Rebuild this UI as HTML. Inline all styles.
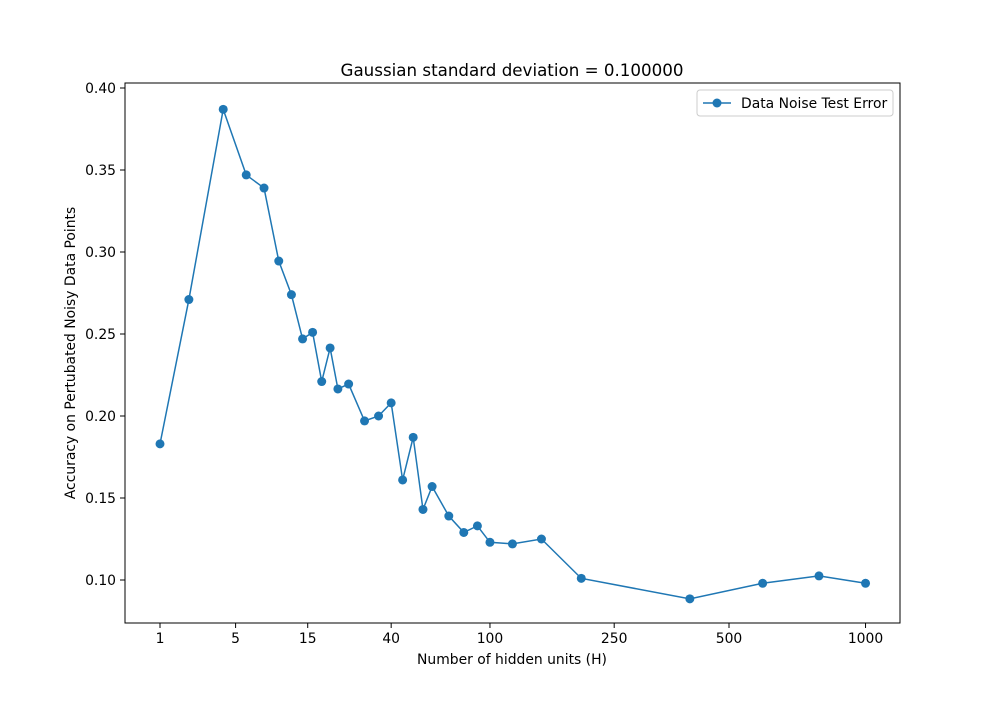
<!DOCTYPE html>
<html><head><meta charset="utf-8"><style>
body{margin:0;background:#fff;}
svg text{font-family:"DejaVu Sans","Liberation Sans",sans-serif;fill:#000;}
</style></head><body>
<svg id="chart" width="1000" height="700" viewBox="0 0 1000 700" xmlns="http://www.w3.org/2000/svg">
<rect width="1000" height="700" fill="#fff"/>
<text x="512" y="76" font-size="16.7" text-anchor="middle">Gaussian standard deviation = 0.100000</text>
<rect x="125" y="83" width="775" height="540" fill="none" stroke="#000" stroke-width="1"/>
<g id="xticks"></g>
<g id="yticks"></g>
<text x="512" y="664" font-size="13.9" text-anchor="middle">Number of hidden units (H)</text>
<text transform="translate(75,353) rotate(-90)" font-size="13.9" text-anchor="middle">Accuracy on Pertubated Noisy Data Points</text>
<g id="series"></g>
<g>
<rect x="697" y="90" width="196" height="26" rx="3" fill="#fff" stroke="#ccc"/>
<line x1="703" y1="103" x2="731" y2="103" stroke="#1f77b4" stroke-width="1.5"/>
<circle cx="717" cy="103" r="4.5" fill="#1f77b4"/>
<text x="741" y="108" font-size="13.9">Data Noise Test Error</text>
</g>
</svg>
<script>
const hiddenUnits=[1,2,4,6,8,10,12,14,16,18,20,22,25,30,35,40,45,50,55,60,70,80,90,100,120,150,200,400,600,800,1000];
const errorValues=[0.183,0.271,0.387,0.347,0.339,0.2945,0.274,0.247,0.251,0.221,0.2415,0.2165,0.2195,0.197,0.200,0.208,0.161,0.187,0.143,0.157,0.139,0.129,0.133,0.123,0.122,0.125,0.101,0.0885,0.098,0.1025,0.098];
const xTickValues=[1,5,15,40,100,250,500,1000];
const yTickValues=[0.10,0.15,0.20,0.25,0.30,0.35,0.40];
const NS="http://www.w3.org/2000/svg";
function xScale(h){return 160+152.6*(Math.pow(h,0.25)-1);}
function yScale(v){return 580-(v-0.10)*1640;}
function mk(tag,attrs,parent){const e=document.createElementNS(NS,tag);for(const k in attrs)e.setAttribute(k,attrs[k]);parent.appendChild(e);return e;}
const xg=document.getElementById('xticks');
xTickValues.forEach(t=>{const x=xScale(t);
 const l=mk('line',{x1:x,x2:x,y1:623,y2:628,stroke:'#000'},xg);
 
 
 const tx=mk('text',{x:x,y:643,'font-size':13.9,'text-anchor':'middle'},xg);tx.textContent=String(t);
 
 
});
const yg=document.getElementById('yticks');
yTickValues.forEach(t=>{const y=yScale(t);
 const l=mk('line',{x1:120,x2:125,y1:y,y2:y,stroke:'#000'},yg);
 
 
 const tx=mk('text',{x:116,y:y+5,'font-size':13.9,'text-anchor':'end'},yg);tx.textContent=t.toFixed(2);
 
 
});
const sg=document.getElementById('series');
const pts=hiddenUnits.map((h,i)=>xScale(h)+','+yScale(errorValues[i])).join(' ');
const pl=mk('polyline',{points:pts,fill:'none',stroke:'#1f77b4','stroke-width':1.5},sg);


hiddenUnits.forEach((h,i)=>{
 const c=mk('circle',{cx:xScale(h),cy:yScale(errorValues[i]),r:4.5,fill:'#1f77b4'},sg);
 
 
});
</script>
</body></html>
